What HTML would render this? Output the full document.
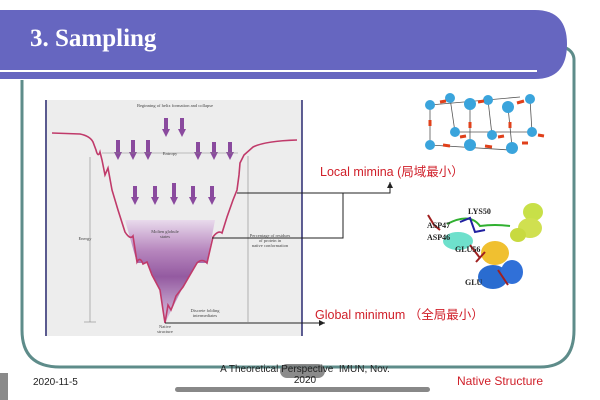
<!DOCTYPE html>
<html><head><meta charset="utf-8"><style>
body{margin:0;width:600px;height:400px;overflow:hidden;background:#fff;font-family:"Liberation Sans","Noto Sans CJK SC",sans-serif;position:relative}
.a{position:absolute}
</style></head><body>
<svg class="a" style="left:0;top:0" width="600" height="400">
<defs>
<linearGradient id="g" x1="0" y1="0" x2="0" y2="1">
<stop offset="0" stop-color="#e8d8ec"/><stop offset="0.3" stop-color="#b07ab8"/><stop offset="0.55" stop-color="#8a4a98"/><stop offset="1" stop-color="#dcc6e2"/></linearGradient>
<marker id="ar" markerUnits="userSpaceOnUse" markerWidth="8" markerHeight="8" refX="6" refY="3" orient="auto"><path d="M0,0L6,3L0,6z" fill="#222"/></marker>
<marker id="pa" markerUnits="userSpaceOnUse" markerWidth="10" markerHeight="10" refX="1" refY="4" orient="auto"><path d="M0,0L8,4L0,8z" fill="#8a4a9e"/></marker>
</defs>
<path d="M22,80 L22,330 Q22,367 60,367 L540,367 Q574,367 574,330 L574,60 Q574,52 566,48" fill="none" stroke="#5e8c8a" stroke-width="3"/>
<path d="M0,10 L535,10 Q567,10 567,44 Q567,79 535,79 L0,79 Z" fill="#6666c0"/>
<rect x="0" y="70" width="537" height="2" fill="#fff"/>
<text x="30" y="46" fill="#fff" font-family="Liberation Serif,serif" font-weight="bold" font-size="25">3. Sampling</text>
<rect x="45" y="100" width="257" height="236" fill="#ededed"/>
<line x1="46" y1="100" x2="46" y2="336" stroke="#2a2a70" stroke-width="1.5"/>
<line x1="302" y1="100" x2="302" y2="336" stroke="#2a2a70" stroke-width="1.5"/>
<path d="M125,220 L215,220 L207,263 L197,263 L183,287 L173,307 L165,323 L160,290 L147,263 L137,263 Z" fill="url(#g)" opacity="0.9"/>
<path d="M52,133 L80,134 Q90,136 93,142 L96,150 Q98,158 100,152 L102,160 L105,175 L108,168 L112,190 L118,210 L125,232 Q130,240 133,236 L137,262 Q140,256 143,264 L147,262 L152,275 L160,290 L163,310 L165,323 L168,305 L171,310 L173,305 L176,296 L183,287 L190,275 L197,263 Q202,258 207,263 L213,237 Q218,230 222,233 L227,217 L233,200 L237,190 L239,175 L240,163 L244,155 L253,147 Q265,141 297,140" fill="none" stroke="#c03a6a" stroke-width="1.6"/>
<g stroke="#8a4a9e" stroke-width="4" marker-end="url(#pa)">
<line x1="166" y1="118" x2="166" y2="130"/><line x1="182" y1="118" x2="182" y2="130"/>
<line x1="118" y1="140" x2="118" y2="153"/><line x1="133" y1="140" x2="133" y2="153"/><line x1="148" y1="140" x2="148" y2="153"/>
<line x1="198" y1="142" x2="198" y2="153"/><line x1="214" y1="142" x2="214" y2="153"/><line x1="230" y1="142" x2="230" y2="153"/>
<line x1="135" y1="186" x2="135" y2="198"/><line x1="155" y1="186" x2="155" y2="198"/><line x1="174" y1="183" x2="174" y2="198"/><line x1="193" y1="186" x2="193" y2="198"/><line x1="212" y1="186" x2="212" y2="198"/>
</g>
<g stroke="#888" stroke-width="0.6" fill="none">
<line x1="90" y1="157" x2="90" y2="322"/><line x1="84" y1="322" x2="96" y2="322"/>
<line x1="248" y1="156" x2="248" y2="322"/>
<line x1="102" y1="153" x2="238" y2="153"/>
</g>
<g font-family="Liberation Serif,serif" font-size="4.5" fill="#444" text-anchor="middle">
<text x="175" y="107">Beginning of helix formation and collapse</text>
<text x="170" y="155">Entropy</text>
<text x="85" y="240">Energy</text>
<text x="165" y="233">Molten globule</text><text x="165" y="238">states</text>
<text x="270" y="237">Percentage of residues</text><text x="270" y="242">of protein in</text><text x="270" y="247">native conformation</text>
<text x="205" y="312">Discrete folding</text><text x="205" y="317">intermediates</text>
<text x="165" y="328">Native</text><text x="165" y="333">structure</text>
</g>
<g stroke="#222" stroke-width="1" fill="none">
<polyline points="237,193 390,193 390,182" marker-end="url(#ar)"/>
<polyline points="343,193 343,238 212,238"/>
<line x1="165" y1="323" x2="325" y2="323" marker-end="url(#ar)"/>
</g>
<text x="320" y="176" fill="#d0202a" font-size="12.5">Local mimina (局域最小）</text>
<text x="315" y="319" fill="#d0202a" font-size="12.5">Global minimum （全局最小）</text>
<g stroke="#555" stroke-width="0.8">
<line x1="430" y1="105" x2="520" y2="97"/><line x1="430" y1="105" x2="430" y2="145"/><line x1="430" y1="145" x2="510" y2="150"/>
<line x1="450" y1="98" x2="455" y2="132"/><line x1="470" y1="104" x2="470" y2="142"/><line x1="488" y1="100" x2="492" y2="135"/>
<line x1="508" y1="107" x2="512" y2="147"/><line x1="530" y1="99" x2="532" y2="132"/><line x1="455" y1="132" x2="532" y2="132"/>
</g>
<g fill="#3aa4dc">
<circle cx="430" cy="105" r="5"/><circle cx="450" cy="98" r="5"/><circle cx="470" cy="104" r="6"/><circle cx="488" cy="100" r="5"/><circle cx="508" cy="107" r="6"/><circle cx="530" cy="99" r="5"/>
<circle cx="455" cy="132" r="5"/><circle cx="492" cy="135" r="5"/><circle cx="532" cy="132" r="5"/>
<circle cx="430" cy="145" r="5"/><circle cx="470" cy="145" r="6"/><circle cx="512" cy="148" r="6"/>
</g>
<g stroke="#e0401a" stroke-width="3">
<line x1="440" y1="102" x2="446" y2="101"/><line x1="478" y1="102" x2="484" y2="101"/><line x1="517" y1="103" x2="524" y2="101"/>
<line x1="430" y1="120" x2="430" y2="126"/><line x1="470" y1="122" x2="470" y2="128"/><line x1="510" y1="122" x2="510" y2="128"/>
<line x1="443" y1="145" x2="450" y2="146"/><line x1="485" y1="146" x2="492" y2="147"/><line x1="522" y1="143" x2="528" y2="143"/>
<line x1="538" y1="135" x2="544" y2="136"/><line x1="460" y1="137" x2="466" y2="136"/><line x1="498" y1="137" x2="504" y2="136"/>
</g>
<g>
<ellipse cx="533" cy="212" rx="10" ry="9" fill="#c8e048"/><ellipse cx="530" cy="228" rx="12" ry="10" fill="#d0e050"/><ellipse cx="518" cy="235" rx="8" ry="7" fill="#c8da40"/>
<path d="M447,224 Q470,212 480,226 Q495,224 510,226" stroke="#30b030" stroke-width="2" fill="none"/>
<ellipse cx="458" cy="241" rx="15" ry="9" fill="#6ee0cc"/>
<ellipse cx="495" cy="253" rx="14" ry="12" fill="#f0c030"/>
<ellipse cx="493" cy="277" rx="15" ry="12" fill="#2a6cd0"/><ellipse cx="512" cy="272" rx="11" ry="12" fill="#3070d8"/>
<path d="M460,222 L470,218 L475,232 L485,230" stroke="#2020a0" stroke-width="2" fill="none"/>
<path d="M428,215 L434,225 L440,230 M470,245 L480,258 M476,262 L485,252 M498,270 L508,285" stroke="#a02020" stroke-width="2" fill="none"/>
</g>
<g font-family="Liberation Serif,serif" font-weight="bold" font-size="8" fill="#222">
<text x="468" y="214">LYS50</text><text x="427" y="228">ASP47</text><text x="427" y="240">ASP46</text><text x="455" y="252">GLU56</text><text x="465" y="285">GLU</text>
</g>
<rect x="0" y="373" width="8" height="27" fill="#8a8a8a"/>
<rect x="175" y="387" width="255" height="5" rx="2.5" fill="#888"/>
<rect x="280" y="364" width="45" height="14" rx="7" fill="#777" opacity="0.85"/>
</svg>
<div class="a" style="left:33px;top:377px;font-size:10px;color:#222">2020-11-5</div>
<div class="a" style="left:205px;top:364px;width:200px;text-align:center;font-size:10px;line-height:11px;color:#222">A Theoretical Perspective&nbsp; IMUN, Nov.<br>2020</div>
<div class="a" style="left:457px;top:374px;font-size:12px;color:#d0202a">Native Structure</div>
</body></html>
